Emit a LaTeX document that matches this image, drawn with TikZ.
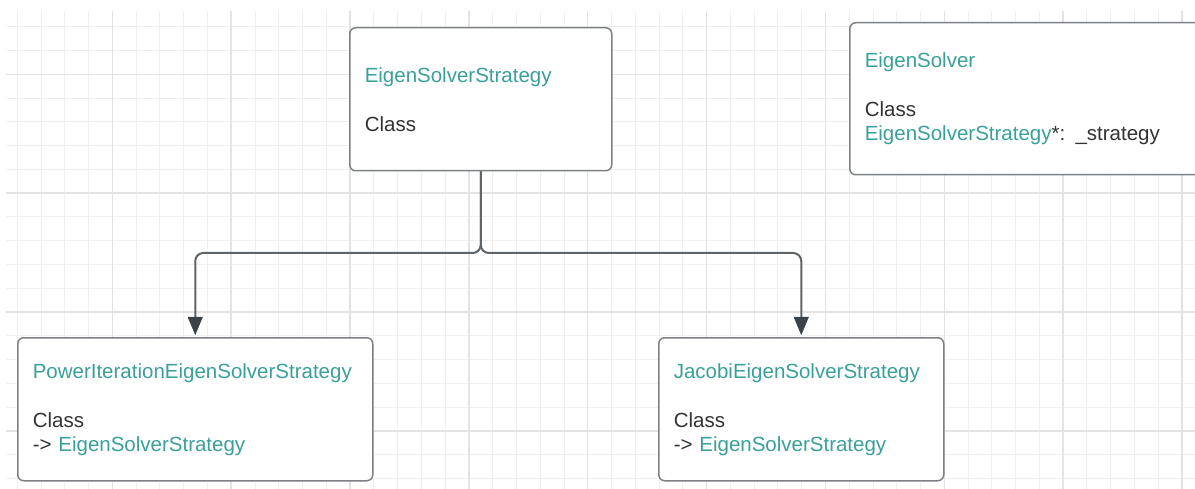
\documentclass[tikz,border=0pt]{standalone}
\usepackage{xcolor}
\usepackage{fontspec}
\setmainfont{Liberation Sans}
\usepackage{tikz}
\usetikzlibrary{positioning,arrows.meta}

\definecolor{typeteal}{HTML}{3AA09A}
\definecolor{inktext}{HTML}{333333}
\definecolor{boxline}{HTML}{7D8185}
\definecolor{linkline}{HTML}{5F6468}
\definecolor{tipfill}{HTML}{3B4248}
\newcommand{\tname}[1]{\textcolor{typeteal}{#1}}

\begin{document}
\begin{tikzpicture}[
    x=1pt, y=1pt,
    every node/.style={font=\fontsize{20.5}{24}\selectfont, text=inktext},
    classbox/.style={rectangle, draw=boxline, line width=1.5pt, fill=white,
        rounded corners=6pt, anchor=north west, align=left,
        inner xsep=15pt, inner ysep=0pt},
    link/.style={draw=linkline, line width=2pt,
        -{Triangle[length=18pt, width=15pt, fill=tipfill, color=tipfill, line width=0.5pt]},
        shorten >=2pt},
    minorgrid/.style={draw=black!6, line width=1pt},
    majorgrid/.style={draw=black!11, line width=1.4pt}
]
\useasboundingbox (0,0) rectangle (1195,-489);
\fill[white] (0,0) rectangle (1195,-489);
\clip (0,0) rectangle (1195,-489);

% background grid
\foreach \i in {0,...,49}
    \draw[minorgrid] (17.3+23.77*\i,-11) -- (17.3+23.77*\i,-489);
\foreach \i in {0,...,19}
    \draw[minorgrid] (6,-26.7-23.77*\i) -- (1195,-26.7-23.77*\i);
\foreach \i in {0,...,9}
    \draw[majorgrid] (112.3+118.85*\i,-11) -- (112.3+118.85*\i,-489);
\foreach \i in {0,...,3}
    \draw[majorgrid] (6,-74.3-118.85*\i) -- (1195,-74.3-118.85*\i);

% classes
\node[classbox, text width=232pt, minimum height=143pt] (strat) at (349,-27)
    {\tname{EigenSolverStrategy}\\[25pt] Class};
\node[classbox, text width=380pt, minimum height=152pt] (solver) at (849,-22)
    {\tname{EigenSolver}\\[25pt] Class\\ \tname{EigenSolverStrategy}*: \_strategy};
\node[classbox, text width=325pt, minimum height=143pt] (power) at (17,-337)
    {\tname{PowerIterationEigenSolverStrategy}\\[25pt] Class\\ -> \tname{EigenSolverStrategy}};
\node[classbox, text width=255pt, minimum height=143pt] (jacobi) at (658,-337)
    {\tname{JacobiEigenSolverStrategy}\\[25pt] Class\\ -> \tname{EigenSolverStrategy}};

% inheritance links
\coordinate (split) at (strat.south |- 0,-253);
\draw[link, rounded corners=8pt] (strat.south) -- (split) -| (power.north);
\draw[link, rounded corners=8pt] (strat.south) -- (split) -| (jacobi.north);
\end{tikzpicture}
\end{document}
